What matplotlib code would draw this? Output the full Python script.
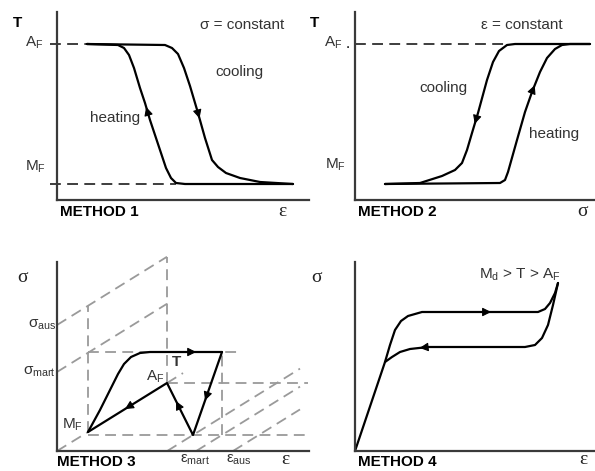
import matplotlib
matplotlib.use("Agg")
import matplotlib.pyplot as plt
import numpy as np

plt.rcParams["font.family"] = ["Liberation Sans", "DejaVu Sans"]
plt.rcParams["mathtext.default"] = "regular"

# --- Method 1: temperature vs strain at constant stress ---
m1_heat_x = [30, 61, 67, 72, 77, 83, 88, 93, 103, 109, 114, 119, 128, 236]
m1_heat_y = [156, 155, 152, 145, 132, 112, 97, 80, 50, 32, 22, 17, 16, 16]
m1_cool_x = [30, 108, 115, 121, 127, 133, 141, 148, 155, 161, 169, 183, 203, 236]
m1_cool_y = [156, 155, 152, 146, 132, 114, 87, 62, 40, 33, 27, 22, 18, 16]
m1_af, m1_mf = 156, 16

# --- Method 2: temperature vs stress at constant strain ---
m2_cool_x = [30, 65, 87, 100, 107, 112, 117, 123, 132, 138, 144, 152, 160, 235]
m2_cool_y = [16, 17, 24, 30, 37, 50, 67, 87, 120, 138, 149, 155, 156, 156]
m2_heat_x = [30, 145, 150, 153, 162, 170, 177, 185, 192, 200, 207, 215, 235]
m2_heat_y = [16, 17, 20, 28, 60, 88, 108, 128, 142, 151, 155, 156, 156]
m2_af = 156

# --- Method 3: stress-strain-temperature path ---
m3_load_x = [31, 43, 53, 61, 67, 74, 83, 93, 165]
m3_load_y = [19, 41, 61, 77, 87, 94, 98, 99, 99]
m3_mf = (31, 19)
m3_af = (110, 68)
m3_top = (165, 99)
m3_bottom = (136, 16)
m3_sig_aus, m3_sig_mart = 126, 79

# --- Method 4: superelastic loop ---
m4_load_x = [0, 30, 35, 40, 46, 53, 67, 183, 190, 195, 200, 203]
m4_load_y = [0, 89, 106, 121, 130, 135, 139, 139, 142, 148, 158, 168]
m4_unload_x = [203, 198, 193, 187, 180, 170, 73, 55, 45, 37, 30]
m4_unload_y = [168, 146, 126, 113, 106, 104, 104, 102, 99, 94, 89]

W, H = 595, 471
fig = plt.figure(figsize=(W / 100, H / 100), dpi=100)

AXIS_C = "#3a3a3a"
TEXT_C = "#333333"
DASH_C = "#9a9a9a"


def make_axes(left, top, right, bottom):
    ax = fig.add_axes([left / W, 1 - bottom / H, (right - left) / W, (bottom - top) / H])
    ax.set_xlim(0, right - left)
    ax.set_ylim(0, bottom - top)
    for s in ("top", "right"):
        ax.spines[s].set_visible(False)
    for s in ("left", "bottom"):
        ax.spines[s].set_color(AXIS_C)
        ax.spines[s].set_linewidth(1.6)
    ax.set_xticks([])
    ax.set_yticks([])
    ax.patch.set_alpha(0)
    return ax


def arrow_on(ax, xs, ys, i, frac=0.5, size=13):
    # small filled arrowhead on segment i -> i+1 of a curve
    x0, y0, x1, y1 = xs[i], ys[i], xs[i + 1], ys[i + 1]
    tx, ty = x0 + (x1 - x0) * frac, y0 + (y1 - y0) * frac
    d = np.hypot(x1 - x0, y1 - y0)
    ux, uy = (x1 - x0) / d, (y1 - y0) / d
    ax.annotate("", xy=(tx + ux * 3, ty + uy * 3), xytext=(tx - ux * 3, ty - uy * 3),
                arrowprops=dict(arrowstyle="-|>", color="black", lw=0.8,
                                mutation_scale=size, shrinkA=0, shrinkB=0))


def label(ax, x, y, s, **kw):
    kw.setdefault("color", TEXT_C)
    kw.setdefault("fontsize", 11)
    kw.setdefault("va", "center")
    ax.text(x, y, s, clip_on=False, **kw)


def greek(ax, x, y, s):
    label(ax, x, y, s, family="Liberation Serif", fontsize=14, ha="center", color="#222222")


curve_kw = dict(color="black", lw=1.6, solid_capstyle="round", solid_joinstyle="round", clip_on=False)
dash_kw = dict(color="#2e2e2e", lw=1.3, dashes=(6, 3.5), clip_on=False)

# Method 1
ax1 = make_axes(57, 12, 309, 200)
ax1.plot([-7, m1_heat_x[0]], [m1_af, m1_af], **dash_kw)
ax1.plot([-7, m1_heat_x[-3]], [m1_mf, m1_mf], **dash_kw)
ax1.plot(m1_heat_x, m1_heat_y, **curve_kw)
ax1.plot(m1_cool_x, m1_cool_y, **curve_kw)
arrow_on(ax1, m1_heat_x[::-1], m1_heat_y[::-1], 6, 0.6)
arrow_on(ax1, m1_cool_x, m1_cool_y, 6, 0.1)
label(ax1, -40, 177, "T", fontweight="bold", color="black", ha="center")
label(ax1, -23, 157, "A$_F$", ha="center")
label(ax1, -22, 33, "M$_F$", ha="center")
label(ax1, 185, 175, "σ = constant", ha="center")
label(ax1, 182, 128, "cooling", ha="center")
label(ax1, 58, 82, "heating", ha="center")
label(ax1, 3, -12, "METHOD 1", fontweight="bold", color="black", ha="left")
greek(ax1, 225, -11, "ε")

# Method 2
ax2 = make_axes(355, 12, 595, 200)
ax2.plot([0, m2_cool_x[-2] - 8], [m2_af, m2_af], **dash_kw)
ax2.plot(m2_cool_x, m2_cool_y, **curve_kw)
ax2.plot(m2_heat_x, m2_heat_y, **curve_kw)
arrow_on(ax2, m2_cool_x[::-1], m2_cool_y[::-1], 6, 0.4)
arrow_on(ax2, m2_heat_x, m2_heat_y, 6, 0.2)
label(ax2, -40, 177, "T", fontweight="bold", color="black", ha="center")
label(ax2, -22, 157, "A$_F$", ha="center")
label(ax2, -7, 156, ".", ha="center", color="black")
label(ax2, -20, 35, "M$_F$", ha="center")
label(ax2, 167, 175, "ε = constant", ha="center")
label(ax2, 88, 112, "cooling", ha="center")
label(ax2, 199, 66, "heating", ha="center")
label(ax2, 3, -12, "METHOD 2", fontweight="bold", color="black", ha="left")
greek(ax2, 227, -11, "σ")

# Method 3
ax3 = make_axes(57, 262, 309, 451)
slope = (m3_af[1] - m3_mf[1]) / (m3_af[0] - m3_mf[0])
g_kw = dict(color=DASH_C, lw=1.3, dashes=(6, 3.5), clip_on=False)
# temperature-axis diagonals
ax3.plot([0, m3_af[0]], [m3_sig_aus, m3_sig_aus + slope * m3_af[0]], **g_kw)
ax3.plot([0, m3_af[0]], [m3_sig_mart, m3_sig_mart + slope * m3_af[0]], **g_kw)
ax3.plot([0, m3_mf[0]], [0, m3_mf[1]], **g_kw)
ax3.plot([m3_af[0], m3_af[0] + 16], [m3_af[1], m3_af[1] + 16 * slope], **g_kw)
for x0 in (m3_bottom[0] - m3_bottom[1] / slope, m3_top[0] - m3_bottom[1] / slope, 176):
    ax3.plot([x0, 243], [0, (243 - x0) * slope], **g_kw)
# projections
ax3.plot([m3_mf[0], m3_mf[0]], [m3_mf[1], m3_sig_aus + slope * m3_mf[0]], **g_kw)
ax3.plot([m3_af[0], m3_af[0]], [m3_af[1], m3_sig_aus + slope * m3_af[0]], **g_kw)
ax3.plot([m3_top[0], m3_top[0]], [m3_bottom[1], m3_top[1]], **g_kw)
ax3.plot([m3_mf[0], 180], [m3_top[1], m3_top[1]], **g_kw)
ax3.plot([m3_af[0], 251], [m3_af[1], m3_af[1]], **g_kw)
ax3.plot([m3_mf[0], 251], [m3_bottom[1], m3_bottom[1]], **g_kw)
# path
ax3.plot(m3_load_x, m3_load_y, **curve_kw)
path_x = [m3_top[0], m3_bottom[0], m3_af[0], m3_mf[0]]
path_y = [m3_top[1], m3_bottom[1], m3_af[1], m3_mf[1]]
ax3.plot(path_x, path_y, **curve_kw)
arrow_on(ax3, m3_load_x, m3_load_y, 7, 0.6)
arrow_on(ax3, path_x, path_y, 0, 0.55)
arrow_on(ax3, path_x, path_y, 1, 0.6)
arrow_on(ax3, path_x, path_y, 2, 0.5)
greek(ax3, -35, 173, "σ")
label(ax3, -1, m3_sig_aus, "σ$_{aus}$", ha="right")
label(ax3, -1, m3_sig_mart, "σ$_{mart}$", ha="right")
label(ax3, 15, 26, "M$_F$", ha="center")
label(ax3, 98, 74, "A$_F$", ha="center")
label(ax3, 120, 89, "T", ha="center", fontweight="bold")
label(ax3, 138, -9, "ε$_{mart}$", ha="center")
label(ax3, 182, -9, "ε$_{aus}$", ha="center")
greek(ax3, 228, -9, "ε")
label(ax3, 0, -11, "METHOD 3", fontweight="bold", color="black", ha="left")

# Method 4
ax4 = make_axes(355, 262, 595, 451)
ax4.plot(m4_load_x, m4_load_y, **curve_kw)
ax4.plot(m4_unload_x, m4_unload_y, **curve_kw)
arrow_on(ax4, m4_load_x, m4_load_y, 6, 0.57)
arrow_on(ax4, m4_unload_x, m4_unload_y, 6, 0.3)
greek(ax4, -38, 173, "σ")
label(ax4, 165, 176, "M$_d$ > T > A$_F$", ha="center")
greek(ax4, 228, -9, "ε")
label(ax4, 3, -11, "METHOD 4", fontweight="bold", color="black", ha="left")

fig.savefig("out.png", dpi=100)
